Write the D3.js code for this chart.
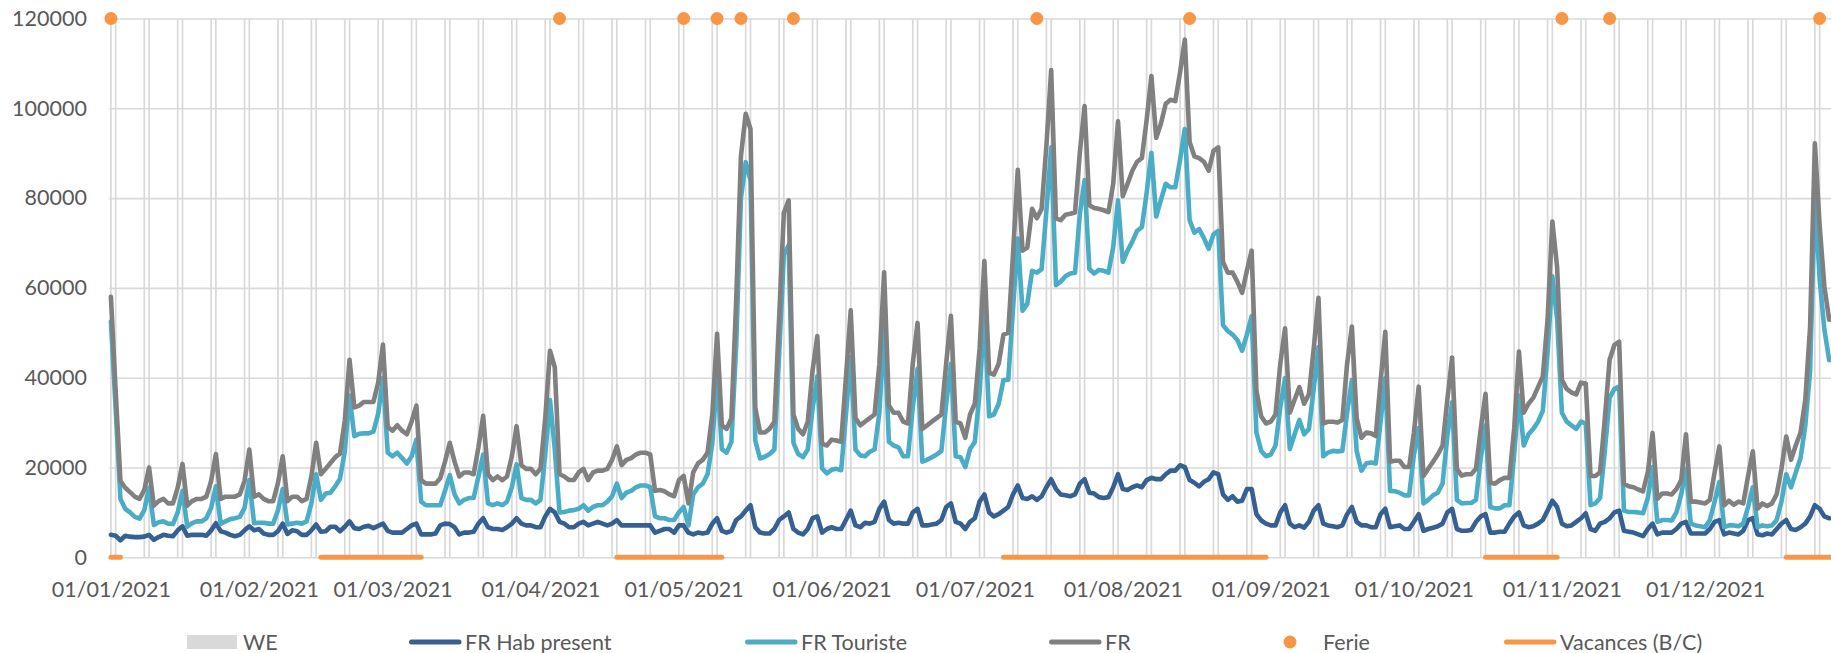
<!DOCTYPE html>
<html>
<head>
<meta charset="utf-8">
<script src="https://cdn.jsdelivr.net/npm/d3@7"></script>
<style>
  html, body { margin: 0; padding: 0; background: #fff; }
  svg { display: block; }
</style>
</head>
<body>
<div id="chart"></div>
<script>

const startDate = '2021-01-01'
const endDate   = '2021-12-31'

const frHabPresent = [
  5000, 4800, 3800, 4800, 4600, 4500, 4500, 4600, 5000, 3900, 4500, 5000, 4800, 4700, 6000, 6900,
  4800, 5000, 5000, 5000, 4800, 6000, 7600, 5800, 5500, 5000, 4700, 5000, 6000, 6900, 6000, 6300,
  5300, 5000, 5000, 5800, 7500, 5200, 6000, 5800, 5000, 5000, 6000, 7300, 5700, 5800, 6800, 6800,
  5800, 6800, 8000, 6500, 6300, 6800, 7000, 6500, 7000, 7500, 5900, 5500, 5500, 5500, 6300, 7100,
  7500, 5100, 5100, 5100, 5300, 7100, 7500, 7400, 6700, 5100, 5500, 5500, 5700, 7500, 8700, 6700,
  6300, 6300, 6100, 6700, 7500, 8700, 7500, 7100, 7100, 6700, 6700, 9100, 10800, 10000, 7900, 7500,
  6700, 6700, 7500, 7900, 7100, 7500, 7900, 7500, 7100, 7500, 8300, 7100, 7100, 7100, 7100, 7100,
  7100, 7100, 5500, 5900, 6300, 6300, 5500, 7100, 7100, 5500, 5100, 5500, 5300, 5500, 7500, 8700,
  5900, 5500, 5900, 8300, 9100, 10400, 11600, 6700, 5500, 5300, 5300, 6300, 8300, 9100, 10000, 6300,
  5500, 5100, 6300, 8700, 9100, 5500, 6300, 6700, 6300, 6300, 8300, 10400, 7100, 6700, 7700, 7500,
  7900, 10800, 12400, 8300, 7500, 7700, 7500, 7500, 10000, 10800, 7100, 7100, 7300, 7500, 8300, 11200,
  12000, 7900, 7500, 6300, 7900, 8700, 12400, 14000, 10000, 9100, 9600, 10400, 11200, 14000, 16000, 13200,
  13000, 13600, 12800, 13600, 15600, 17400, 15200, 14000, 13800, 13600, 14000, 16400, 17400, 14400, 14200, 13400,
  13200, 13400, 15600, 18500, 15200, 15000, 15600, 16000, 15600, 17200, 17700, 17400, 17400, 18500, 19300, 19300,
  20500, 20100, 17200, 16600, 15800, 16800, 17400, 18900, 18500, 14000, 12800, 13600, 12400, 12600, 15200, 15200,
  9600, 8200, 7500, 7100, 7100, 10000, 11600, 7500, 6700, 7100, 6600, 7900, 10400, 11600, 7500, 7100,
  6900, 6700, 7100, 9600, 11200, 7900, 7100, 7100, 6700, 6700, 9600, 10800, 6700, 6900, 7100, 6300,
  6300, 7900, 9600, 5900, 6300, 6600, 6900, 7500, 10000, 10800, 6300, 5900, 5900, 6100, 7900, 9100,
  9600, 5500, 5500, 5700, 5700, 7500, 9100, 10000, 7100, 6700, 6900, 7500, 8300, 10400, 12600, 11200,
  7500, 6900, 7100, 7900, 8700, 9800, 6300, 5900, 7500, 7900, 8700, 10000, 10400, 5900, 5700, 5500,
  5100, 4700, 6300, 7500, 5100, 5500, 5500, 5500, 6300, 7500, 7900, 5300, 5300, 5300, 5300, 6300,
  7900, 8300, 5100, 5500, 5300, 5100, 5900, 8300, 8700, 5100, 4900, 5300, 5100, 6300, 7500, 8300,
  6300, 6100, 6700, 7500, 9100, 11600, 10800, 9100, 8700
]

const frTouriste = [
  52500, 33000, 13000, 10800, 10000, 9000, 8600, 10500, 15500, 7200, 7800, 8000, 7500, 7400, 10000, 14800,
  6800, 7600, 8000, 8000, 8700, 11000, 15800, 7500, 8000, 8500, 8700, 9000, 11000, 17200, 7600, 7700,
  7700, 7500, 7500, 10500, 15200, 7300, 7500, 7700, 7500, 8000, 12000, 18500, 12800, 14200, 14400, 15800,
  17500, 23600, 36000, 27000, 27500, 27600, 27600, 28000, 32000, 40000, 23300, 22500, 23300, 22100, 20900, 22500,
  26200, 12400, 11600, 11600, 11600, 11600, 14800, 18300, 14000, 12000, 12800, 13200, 13200, 18000, 22900, 12000,
  11600, 12000, 11600, 12400, 15600, 20700, 13200, 12800, 12800, 12000, 12800, 22900, 35000, 24000, 10000, 10100,
  10400, 10500, 10800, 11600, 10400, 11200, 11600, 11600, 12400, 13600, 16400, 13200, 14400, 14800, 15600, 16000,
  16000, 15600, 9100, 8700, 8700, 8300, 8300, 10000, 11200, 7100, 14000, 15600, 16400, 18500, 25300, 40700,
  24100, 23300, 25700, 47000, 80000, 88000, 84000, 26000, 22000, 22400, 23000, 24000, 45000, 67500, 69500, 25500,
  23000, 22300, 24000, 33000, 40300, 19800, 18700, 19500, 19700, 19400, 31700, 44600, 24000, 22700, 22500, 23500,
  24000, 32200, 51000, 25700, 24900, 24500, 22500, 22500, 33400, 42000, 21300, 21700, 22300, 22900, 23700, 34200,
  43100, 22500, 22300, 20100, 24100, 25700, 36700, 54500, 31400, 31800, 34200, 39500, 39500, 55300, 71000, 54900,
  56500, 63800, 63400, 64200, 77200, 91300, 60600, 61400, 62600, 63200, 63400, 76400, 84000, 64200, 63200, 64000,
  63800, 63400, 69100, 79500, 65800, 68300, 70300, 72700, 73500, 81200, 90100, 75900, 79600, 83200, 82400, 82400,
  88500, 95400, 75100, 72300, 73100, 71100, 68700, 71900, 72700, 51700, 50400, 49600, 48400, 46000, 49600, 53700,
  27800, 23700, 22500, 22900, 24900, 33400, 39900, 24100, 27400, 30600, 27400, 28600, 37500, 46800, 22500, 23300,
  23700, 23600, 23700, 32200, 39500, 23700, 19300, 20900, 21100, 20900, 30000, 39900, 14800, 14700, 14400, 13800,
  13800, 22900, 28800, 12000, 12800, 13800, 14400, 16400, 27000, 34500, 12800, 12000, 12100, 12100, 12800, 22100,
  29400, 11200, 10900, 10900, 11600, 11600, 22900, 36000, 24900, 27400, 28600, 30200, 32600, 45600, 62600, 53000,
  32200, 30200, 29400, 28600, 30200, 29800, 11600, 12000, 13200, 23700, 35500, 37500, 38000, 10400, 10100, 10100,
  10000, 9800, 13200, 20100, 7900, 8300, 8300, 8200, 10000, 14000, 19700, 7500, 7100, 6900, 6700, 8300,
  12400, 16800, 6700, 7100, 7100, 6900, 7500, 11200, 15600, 6700, 7100, 6900, 7100, 8300, 12400, 18500,
  15600, 18900, 22100, 29400, 41500, 80500, 62000, 50700, 43900
]

const fr = [
  58000, 37000, 17000, 15500, 14500, 13500, 13000, 15000, 20000, 11500, 12500, 13000, 12000, 12000, 15500, 20800,
  11500, 12500, 13000, 13000, 13500, 17000, 23000, 13000, 13500, 13500, 13500, 14000, 17000, 24000, 13500, 14000,
  13000, 12500, 12500, 16500, 22500, 12500, 13500, 13500, 12500, 13000, 18000, 25500, 18500, 19700, 21000, 22300,
  23100, 30400, 44000, 33400, 33800, 34600, 34600, 34600, 38900, 47400, 29000, 28200, 29400, 28200, 27400, 30200,
  33800, 17200, 16400, 16400, 16400, 17600, 21300, 25500, 21300, 18000, 18900, 18900, 18500, 24500, 31500, 18500,
  17200, 18000, 17200, 18000, 22500, 29200, 20500, 19700, 19700, 18500, 19700, 31000, 46000, 42300, 18500, 18000,
  17200, 17200, 18900, 19700, 17200, 18900, 19300, 19300, 19700, 21700, 24700, 20500, 21700, 22100, 22900, 23300,
  23300, 22900, 14800, 15000, 14700, 14000, 13600, 17200, 18100, 12000, 18900, 20900, 21700, 23300, 31800, 49800,
  29400, 28600, 31000, 57000, 89300, 98800, 95400, 33400, 27800, 27800, 28600, 30200, 53300, 76800, 79500, 31800,
  28600, 27400, 30200, 41500, 49300, 25300, 24900, 26200, 26000, 25700, 40000, 55000, 31000, 29400, 30200, 31000,
  31800, 43000, 63500, 33800, 32200, 32200, 30200, 29800, 43100, 52200, 28600, 29400, 30200, 31000, 31800, 43100,
  53800, 30200, 29800, 26600, 31800, 34200, 46400, 66000, 41100, 40700, 43100, 49600, 50000, 67400, 86300, 68300,
  69000, 77600, 75500, 77600, 91700, 108500, 75500, 75100, 76300, 76500, 76800, 90100, 100500, 78400, 77800, 77600,
  77300, 76900, 83200, 97100, 80400, 83200, 86100, 88100, 88900, 97400, 107200, 93400, 96600, 101000, 101900, 101600,
  108000, 115300, 92500, 89300, 88900, 88100, 86100, 90500, 91300, 65800, 63400, 63400, 61400, 58900, 63800, 68300,
  37100, 31400, 29800, 30200, 31800, 43100, 51000, 32200, 35100, 37900, 34200, 36300, 46400, 57800, 29800, 30200,
  30200, 30000, 30600, 43100, 51400, 31000, 26600, 27800, 27600, 27000, 39100, 50200, 21300, 21500, 21500, 20100,
  20100, 27800, 38000, 18100, 19700, 21300, 22900, 24900, 35100, 44500, 19700, 18200, 18500, 18500, 19700, 28600,
  36400, 16600, 16400, 17200, 17700, 17700, 28600, 45800, 32200, 34200, 35500, 37900, 40300, 52900, 74800, 64600,
  39500, 37500, 36700, 36300, 38900, 38700, 18100, 18100, 18900, 31000, 44000, 47300, 48000, 16400, 15800, 15600,
  15100, 14700, 18900, 27700, 13000, 14200, 14200, 14000, 15200, 17200, 27400, 12400, 12400, 12200, 12000, 12800,
  18900, 24700, 11600, 12600, 11700, 12400, 12000, 18100, 23600, 10800, 12000, 11400, 12000, 14000, 19700, 26900,
  21700, 24900, 27800, 35100, 51300, 92200, 73900, 60200, 52900
]

const feries = [
  '2021-01-01', '2021-04-05', '2021-05-01', '2021-05-08', '2021-05-13', '2021-05-24',
  '2021-07-14', '2021-08-15', '2021-11-01', '2021-11-11', '2021-12-25'
]

const vacances = [
  ['2021-01-01', '2021-01-03'],
  ['2021-02-14', '2021-03-07'],
  ['2021-04-17', '2021-05-09'],
  ['2021-07-07', '2021-08-31'],
  ['2021-10-16', '2021-10-31'],
  ['2021-12-18', '2021-12-31']
]

// jours de la semaine colores en WE (getUTCDay)
const weDays = [5, 6]

const yTicks = [0, 20000, 40000, 60000, 80000, 100000, 120000]

const legendLabels = ['WE', 'FR Hab present', 'FR Touriste', 'FR', 'Ferie', 'Vacances (B/C)']


const width  = 1831
const height = 653
const x0     = 110.9
const dayW   = 4.773
const yBase  = 557.3
const yTop   = 18.5
const font   = 'Lato, "Open Sans", sans-serif'
const textColor = '#595959'
const gridColor = '#d9d9d9'
const orange = '#f79646'

const parse = d3.utcParse('%Y-%m-%d')
const days  = d3.utcDays(parse(startDate), d3.utcDay.offset(parse(endDate), 1))

const x = d3.scaleUtc()
  .domain([parse(startDate), parse(endDate)])
  .range([x0, x0 + (days.length - 1) * dayW])

const y = d3.scaleLinear()
  .domain([0, d3.max(yTicks)])
  .range([yBase, yTop])

const svg = d3.select('#chart')
  .append('svg')
  .attr('width', width)
  .attr('height', height)
  .style('font-family', font)

svg.append('rect')
  .attr('width', width)
  .attr('height', height)
  .attr('fill', '#fff')

// horizontal grid + y labels
const yAxis = svg.append('g')
  .attr('transform', `translate(${x0}, 0)`)
  .call(d3.axisLeft(y)
    .tickValues(yTicks)
    .tickFormat(d3.format('d'))
    .tickSize(-(x.range()[1] - x0 + 2))
    .tickPadding(24))

yAxis.select('.domain').remove()
yAxis.selectAll('line')
  .attr('stroke', gridColor)
  .attr('stroke-width', 1.6)
  .attr('x1', -1.5)
yAxis.selectAll('text')
  .attr('fill', textColor)
  .attr('font-size', '21.5px')
  .attr('font-family', font)

// WE columns
svg.append('g')
  .selectAll('rect')
  .data(days.filter(d => weDays.includes(d.getUTCDay())))
  .enter()
  .append('rect')
    .attr('x', d => x(d) - 0.85)
    .attr('width', 1.7)
    .attr('y', y(d3.max(yTicks)))
    .attr('height', y(0) - y(d3.max(yTicks)))
    .attr('fill', gridColor)

// x labels
const xAxis = svg.append('g')
  .attr('transform', `translate(0, ${yBase})`)
  .call(d3.axisBottom(x)
    .ticks(d3.utcMonth.every(1))
    .tickFormat(d3.utcFormat('%d/%m/%Y'))
    .tickSize(0)
    .tickPadding(24))

xAxis.select('.domain').remove()
xAxis.selectAll('text')
  .attr('fill', textColor)
  .attr('font-size', '21.5px')
  .attr('font-family', font)

const series = [
  { name: 'FR Hab present', values: frHabPresent, color: '#376092' },
  { name: 'FR Touriste',    values: frTouriste,   color: '#4bacc6' },
  { name: 'FR',             values: fr,           color: '#808080' }
]

const line = d3.line()
  .x((v, i) => x(days[i]))
  .y(v => y(v))

svg.append('g')
  .selectAll('path')
  .data(series)
  .enter()
  .append('path')
    .attr('d', s => line(s.values))
    .attr('fill', 'none')
    .attr('stroke', s => s.color)
    .attr('stroke-width', 4.6)
    .attr('stroke-linejoin', 'round')
    .attr('stroke-linecap', 'round')

// vacances
svg.append('g')
  .selectAll('line')
  .data(vacances)
  .enter()
  .append('line')
    .attr('x1', d => x(parse(d[0])))
    .attr('x2', d => x(parse(d[1])))
    .attr('y1', y(0))
    .attr('y2', y(0))
    .attr('stroke', orange)
    .attr('stroke-width', 5)
    .attr('stroke-linecap', 'round')

// feries
svg.append('g')
  .selectAll('circle')
  .data(feries)
  .enter()
  .append('circle')
    .attr('cx', d => x(parse(d)))
    .attr('cy', y(d3.max(yTicks)))
    .attr('r', 6.5)
    .attr('fill', orange)

// legend
const legendY = 642
const legendX = [187, 409, 745, 1049, 1264, 1504]
const legend = svg.append('g')
  .selectAll('g')
  .data(legendLabels)
  .enter()
  .append('g')
    .attr('transform', (d, i) => `translate(${legendX[i]}, ${legendY})`)

legend.each(function(d, i) {
  const g = d3.select(this)
  if (i === 0) {
    g.append('rect')
      .attr('y', -7)
      .attr('width', 50)
      .attr('height', 14)
      .attr('fill', gridColor)
  } else if (i === 4) {
    g.append('circle')
      .attr('cx', 26)
      .attr('r', 6.5)
      .attr('fill', orange)
  } else {
    g.append('line')
      .attr('x1', 2.5)
      .attr('x2', 50)
      .attr('stroke', i === 5 ? orange : series[i - 1].color)
      .attr('stroke-width', 5)
      .attr('stroke-linecap', 'round')
  }
  g.append('text')
    .attr('x', i === 4 ? 59 : 56)
    .attr('y', 8)
    .attr('fill', textColor)
    .attr('font-size', '21.5px')
    .text(d)
})

</script>
</body>
</html>
